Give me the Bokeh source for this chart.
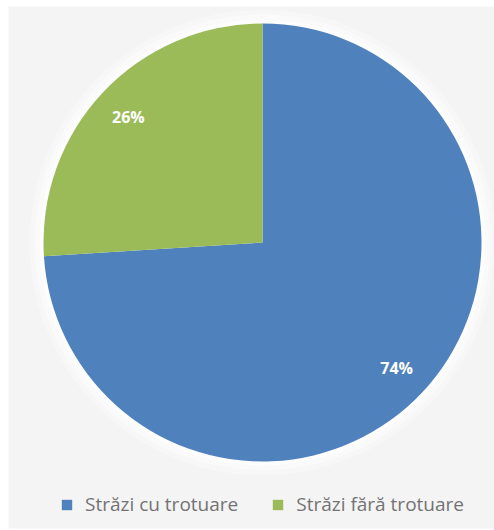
import numpy as np
from bokeh.plotting import figure
from bokeh.models import Range1d, ColumnDataSource, Legend, LegendItem
from bokeh.core.properties import value
from bokeh.embed import file_html
from bokeh.resources import INLINE

categories = ["Străzi cu trotuare", "Străzi fără trotuare"]
values = [74, 26]
labels = ["74%", "26%"]
colors = ["#4F81BD", "#9BBB59"]

W, H = 494, 530
p = figure(width=W, height=H, output_backend="svg", toolbar_location=None,
           x_range=Range1d(0, 486), y_range=Range1d(0, 522),
           min_border_left=8, min_border_right=0, min_border_top=6, min_border_bottom=2)
p.axis.visible = False
p.grid.visible = False
p.outline_line_color = None
p.background_fill_color = "#f4f4f4"
p.border_fill_color = "white"

cx, cy, r = 254, 286, 219
vals = np.array(values, dtype=float)
frac = vals / vals.sum()
ends = np.pi / 2 - np.cumsum(frac) * 2 * np.pi
starts = np.concatenate([[np.pi / 2], ends[:-1]])
mids = (starts + ends) / 2

src = ColumnDataSource(dict(start=starts, end=ends, color=colors, cat=categories,
                            lx=cx + 0.84 * r * np.cos(mids), ly=cy + 0.84 * r * np.sin(mids),
                            lab=labels))

# soft glow
for dr, a in [(14, 0.25), (9, 0.35), (4, 0.5)]:
    p.circle(x=[cx], y=[cy], radius=r + dr, fill_color="white", fill_alpha=a, line_color=None)

w = p.wedge(x=cx, y=cy, radius=r, start_angle="start", end_angle="end", direction="clock",
            fill_color="color", line_color=None, source=src)

p.text(x="lx", y="ly", text="lab", source=src, text_color="white", text_font=value("Open Sans"),
       text_font_style="bold", text_font_size="16px", text_align="center", text_baseline="middle")

legend = Legend(items=[LegendItem(label=c, renderers=[w], index=i) for i, c in enumerate(categories)],
                orientation="horizontal", location=(52, 11), padding=0, margin=0,
                border_line_color=None, background_fill_alpha=0,
                glyph_width=13, glyph_height=13, label_standoff=12, spacing=33,
                label_text_font="Open Sans", label_text_font_size="19px",
                label_text_color="#737373")
p.add_layout(legend, "center")

open("out.html", "w").write(file_html(p, INLINE))
